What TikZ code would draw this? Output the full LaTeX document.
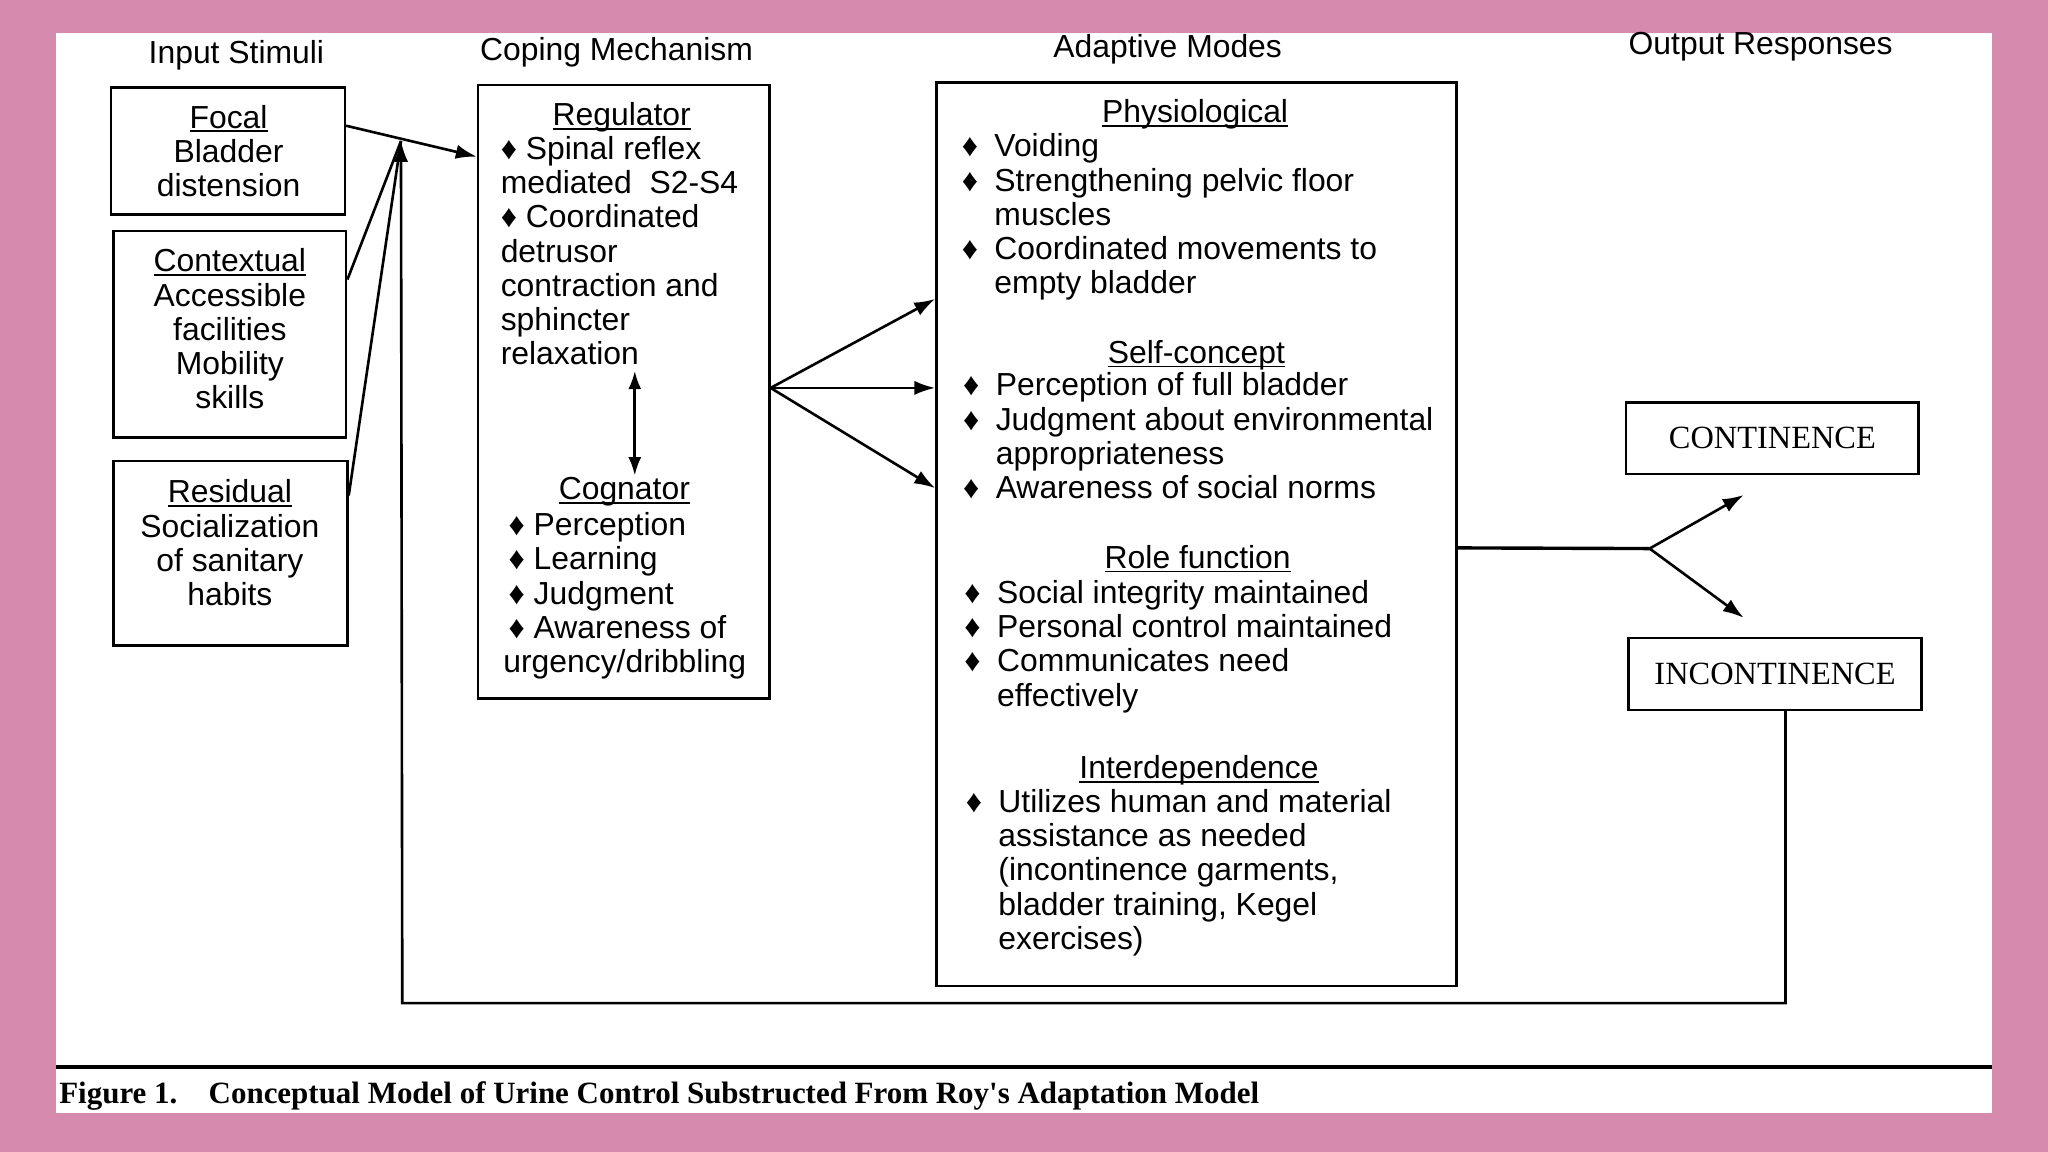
\documentclass[tikz,border=0pt]{standalone}
\usepackage{fontspec}
\setmainfont{Liberation Sans}
\newfontfamily\timesfont{Liberation Serif}
\usetikzlibrary{fit,arrows.meta}
\definecolor{bgpink}{RGB}{214,139,174}
\newcommand{\bul}{\makebox[12.5pt][l]{♦}}
\newcommand{\ind}{\hspace*{12.5pt}}
\newcommand{\undl}[1]{\setbox0\hbox{#1}\rlap{\rule[-1.6pt]{\wd0}{0.7pt}}\box0}

\begin{document}
\begin{tikzpicture}[x=0.5pt,y=-0.5pt]
        \tikzstyle{every node}=[inner sep=0pt, font=\fontsize{12.2}{13.1}\selectfont]
        \tikzstyle{box}=[draw, line width=1pt]
        \tikzstyle{head}=[align=center, anchor=north]
        \tikzstyle{list}=[align=left, anchor=north west]
        \tikzstyle{outbox}=[draw, line width=1pt, minimum width=112pt, minimum height=27.5pt, font=\timesfont\fontsize{12.4}{14}\selectfont]
        \tikzstyle{line}=[line width=1pt]
        \tikzstyle{arr}=[line width=1pt, -{Latex[length=8pt,width=5.5pt]}]
        \tikzstyle{dbl}=[line width=1pt, {Latex[length=7pt,width=5pt]}-{Latex[length=7pt,width=5pt]}]
        \useasboundingbox (0,0) rectangle (1568,882);
        \fill[bgpink] (0,0) rectangle (1568,882);
        \fill[white] (43,25) rectangle (1525,852);
        % column titles
        \node (tin) at (181,42) {Input Stimuli};
        \node (tcope) at (472,40) {Coping Mechanism};
        \node (tmodes) at (894,38) {Adaptive Modes};
        \node (tout) at (1348,36) {Output Responses};
        % stimuli
        \node[box, fit={(85,67) (264,164)}] (focal) {};
        \node[head] (focaltxt) at (175,80) {\undl{Focal}\\Bladder\\distension};
        \node[box, fit={(87,177) (265,335)}] (ctx) {};
        \node[head] (ctxtxt) at (176,190) {\undl{Contextual}\\Accessible\\facilities\\Mobility\\skills};
        \node[box, fit={(87,353) (266,494)}] (res) {};
        \node[head] (restxt) at (176,367) {\undl{Residual}\\Socialization\\of sanitary\\habits};
        % coping
        \node[box, fit={(366,65) (589,535)}] (reg) {};
        \node[head] (regtitle) at (476,78) {\undl{Regulator}};
        \node[list] (reglist) at (383,104) {♦ Spinal reflex\\mediated\ \ S2-S4\\♦ Coordinated\\detrusor\\contraction and\\sphincter\\relaxation};
        \node[head] (cogtitle) at (478,365) {\undl{Cognator}};
        \node[list] (coglist) at (385,392) {\hspace*{2pt}♦ Perception\\\hspace*{2pt}♦ Learning\\\hspace*{2pt}♦ Judgment\\\hspace*{2pt}♦ Awareness of\\urgency/dribbling};
        % adaptive modes
        \node[box, fit={(717,63) (1115,755)}] (modes) {};
        \node[head] (phystitle) at (915,76) {\undl{Physiological}};
        \node[list] (physlist) at (736,102) {\bul Voiding\\\bul Strengthening pelvic floor\\\ind muscles\\\bul Coordinated movements to\\\ind empty bladder};
        \node[head] (selftitle) at (916,260) {\undl{Self-concept}};
        \node[list] (selflist) at (737,285) {\bul Perception of full bladder\\\bul Judgment about environmental\\\ind appropriateness\\\bul Awareness of social norms};
        \node[head] (roletitle) at (917,417) {\undl{Role function}};
        \node[list] (rolelist) at (738,444) {\bul Social integrity maintained\\\bul Personal control maintained\\\bul Communicates need\\\ind effectively};
        \node[head] (intertitle) at (918,578) {\undl{Interdependence}};
        \node[list] (interlist) at (739,604) {\bul Utilizes human and material\\\ind assistance as needed\\\ind (incontinence garments,\\\ind bladder training, Kegel\\\ind exercises)};
        % responses
        \node[outbox] (cont) at (1357,335.5) {CONTINENCE};
        \node[outbox] (incont) at (1359,516) {INCONTINENCE};
        % connectors
        \coordinate (join) at (307,108);
        \coordinate (fb) at (308,768);
        \coordinate (regout) at ([yshift=1.5pt]reg.east);
        \coordinate (dtop) at (486,284);
        \coordinate (dbot) at (486,364);
        \coordinate (split) at (1263,420);
        \coordinate (conttip) at (1335,379);
        \coordinate (incontip) at (1335,473);
        \draw[arr] (focal.12) -- (reg.122);
        \draw[line] (ctx.25) -- (join);
        \draw[line] (res.26) -- (join);
        \draw[arr] ([xshift=4pt]incont.south) |- (fb) -- (join);
        \draw[dbl] (dtop) -- (dbot);
        \draw[arr] (regout) -- (modes.138);
        \draw[arr] (regout) -- (modes.west |- regout);
        \draw[arr] (regout) -- (modes.170);
        \draw[line width=1.3pt] (modes.-3) -- (split);
        \draw[arr] (split) -- (conttip);
        \draw[arr] (split) -- (incontip);
        % caption
        \draw[line width=1.5pt] (43,817) -- (1525,817);
        \node[anchor=base west, font=\timesfont\bfseries\fontsize{11.85}{14}\selectfont] (caption) at (45,845) {Figure 1.\hspace{12pt}Conceptual Model of Urine Control Substructed From Roy's Adaptation Model};
\end{tikzpicture}
\end{document}
